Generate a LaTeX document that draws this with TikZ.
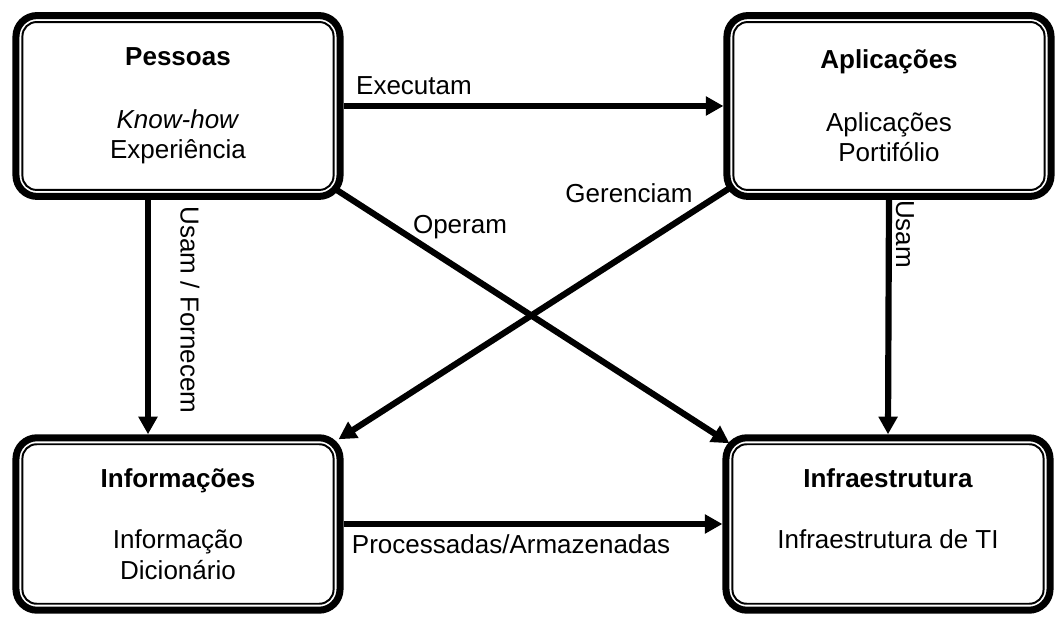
\documentclass[tikz,border=0pt]{standalone}
\usepackage{fontspec}
\setmainfont{Liberation Sans}
\usetikzlibrary{arrows.meta}
\usetikzlibrary{positioning}

\begin{document}
\begin{tikzpicture}[x=0.025cm, y=-0.025cm,
  bloco/.style={draw, line width=5pt, rounded corners=15pt, minimum width=8.1cm, minimum height=#1, inner sep=0pt, align=center, font=\fontsize{18.5}{21.5}\selectfont},
  borda/.style={line width=1.4pt, rounded corners=10pt},
  fluxo/.style={line width=4.4pt, -{Triangle[length=12.5pt,width=13pt]}},
  rotulo/.style={inner sep=1pt, font=\fontsize{18.5}{21.5}\selectfont}]

\useasboundingbox (0,0) rectangle (1055,617);

% boxes
\node (pessoas) [bloco=4.52cm] at (178,106) {\textbf{Pessoas}\\[23pt]\textit{Know-how}\\Experiência};
\node (aplic) [bloco=4.52cm] at (889,106) {\textbf{Aplicações}\\[23pt]Aplicações\\Portifólio};
\node (info) [bloco=4.31cm] at (178,524) {\textbf{Informações}\\[22pt]Informação\\Dicionário};
\node (infra) [bloco=4.31cm] at (888,524) {\textbf{Infraestrutura}\\[22pt]Infraestrutura de TI\\ \mbox{}};

% inner lines
\foreach \n in {pessoas,aplic,info,infra}
  \draw[borda] ([shift={(10,-10)}]\n.south west) rectangle ([shift={(-10,10)}]\n.north east);

% arrows
\draw[fluxo] (pessoas.east) -- (aplic.west);
\draw[fluxo] ([shift={(-30,0)}]pessoas.south) -- ([shift={(-30,0)}]info.north);
\draw[fluxo] (aplic.south) -- (infra.north);
\draw[fluxo] ([shift={(-10,-12)}]pessoas.south east) -- ([shift={(7,9)}]infra.north west);
\draw[fluxo] ([shift={(8,-13)}]aplic.south west) -- ([shift={(-5,5)}]info.north east);
\draw[fluxo] (info.east) -- (infra.west);

% labels
\node (lexec) [rotulo] at (414,86) {Executam};
\node (lusamf) [rotulo, rotate=-90] at (190,310) {Usam / Fornecem};
\node (lusam) [rotulo, rotate=-90] at (905,234) {Usam};
\node (loper) [rotulo] at (460,227) {Operam};
\node (lger) [rotulo] at (629,193) {Gerenciam};
\node (lproc) [rotulo] at (511,544) {Processadas/Armazenadas};

\end{tikzpicture}
\end{document}
